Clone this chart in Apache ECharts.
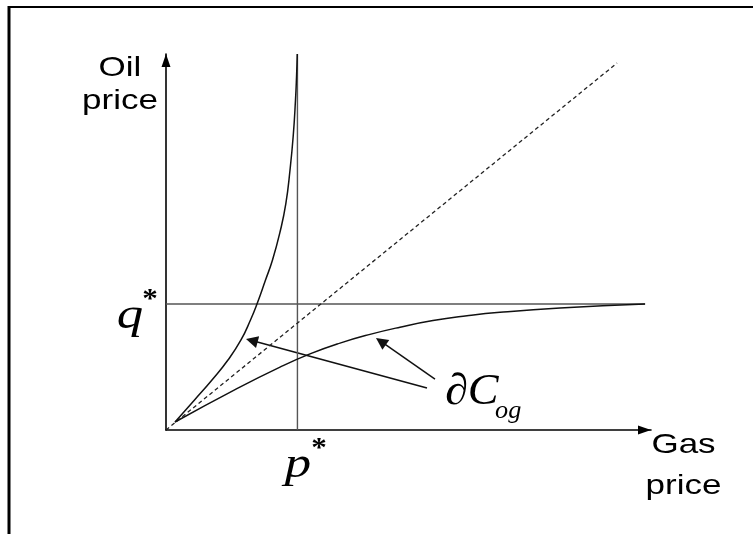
<!DOCTYPE html>
<html>
<head>
<meta charset="utf-8">
<script src="https://cdn.jsdelivr.net/npm/echarts@6/dist/echarts.min.js"></script>
<style>
  html, body { margin: 0; padding: 0; background: #fff; }
  #chart { width: 753px; height: 534px; }
</style>
</head>
<body>
<div id="chart"></div>
<script>
// Gas price on x, oil price on y, both on a 0–100 scale
const axisMax = 100;
const pStar = 27.1;          // threshold gas price p*
const qStar = 33.5;          // threshold oil price q*
const qLineEnd = 98.8;       // where the q* guide stops
const pLineTop = 100;        // where the p* guide stops

// ∂C_og branch that bends up towards the p* asymptote
const steepCurve = [
  [1.86, 2.13], [5.88, 7.98], [9.48, 13.3], [12.78, 18.62], [15.46, 23.94],
  [17.42, 29.26], [18.76, 33.51], [20.52, 39.89], [21.96, 45.21], [23.51, 52.66],
  [24.70, 60.11], [25.57, 69.15], [26.23, 78.19], [26.70, 87.77], [26.93, 94.41],
  [27.07, 100]
];
// ∂C_og branch that flattens towards the q* asymptote
const flatCurve = [
  [1.86, 2.13], [14.43, 10.88], [23.51, 16.73], [29.69, 20.24], [35.88, 23.11],
  [42.06, 25.43], [48.25, 27.34], [55.05, 29.10], [62.06, 30.37], [68.87, 31.30],
  [81.24, 32.45], [98.76, 33.51]
];
// reference ray from the origin
const diagonal = [[0, 0], [93, 97.6]];
// pointers from the ∂C_og label to each branch: [tail, arrowhead centre]
const pointerArrows = [
  [[53.81, 11.17], [17.69, 23.78]],
  [[55.46, 13.56], [44.31, 23.56]]
];

const INK = '#111';
const GUIDE = '#555';
const SANS = '"Liberation Sans", Arial, sans-serif';
const SERIF = '"Liberation Serif", "Times New Roman", serif';

function plainLine(data, color, width, type) {
  return {
    type: 'line',
    data: data,
    showSymbol: false,
    symbol: 'none',
    silent: true,
    lineStyle: { color: color, width: width, type: type || 'solid' }
  };
}

function label(text, x, y, font, align, sx) {
  return {
    type: 'text',
    x: x, y: y,
    scaleX: sx || 1,
    silent: true,
    style: {
      text: text, font: font, fill: '#000',
      align: align, textAlign: align,
      verticalAlign: 'middle', textVerticalAlign: 'middle'
    }
  };
}

const axisCommon = {
  type: 'value',
  min: 0,
  max: axisMax,
  axisLabel: { show: false },
  axisTick: { show: false },
  splitLine: { show: false },
  axisLine: {
    show: true,
    symbol: ['none', 'triangle'],
    symbolSize: [9, 13],
    symbolOffset: [0, -6.5],
    lineStyle: { color: '#000', width: 1.6 }
  }
};

const chart = echarts.init(document.getElementById('chart'), null, { renderer: 'canvas' });

chart.setOption({
  animation: false,
  backgroundColor: '#fff',
  grid: { left: 166, right: 102, top: 54, bottom: 104, containLabel: false },
  xAxis: Object.assign({}, axisCommon),
  yAxis: Object.assign({}, axisCommon),
  series: [
    plainLine([[pStar, 0], [pStar, pLineTop]], GUIDE, 1.4),
    plainLine([[0, qStar], [qLineEnd, qStar]], GUIDE, 1.4),
    plainLine(diagonal, '#222', 1.3, [4, 3]),
    Object.assign(plainLine(steepCurve, INK, 1.5), { smooth: 0.5 }),
    Object.assign(plainLine(flatCurve, INK, 1.5), { smooth: 0.5 }),
    {
      type: 'lines',
      coordinateSystem: 'cartesian2d',
      silent: true,
      symbol: ['none', 'triangle'],
      symbolSize: 12,
      lineStyle: { color: INK, width: 1.5, opacity: 1 },
      data: pointerArrows.map(function (seg) { return { coords: seg }; })
    }
  ],
  graphic: [
    // page frame
    { type: 'line', silent: true, shape: { x1: 9, y1: 6, x2: 9, y2: 534 }, style: { stroke: '#000', lineWidth: 3 } },
    { type: 'line', silent: true, shape: { x1: 8, y1: 7, x2: 753, y2: 7 }, style: { stroke: '#000', lineWidth: 2 } },
    // axis titles
    label('Oil', 120, 68, '28px ' + SANS, 'center', 1.25),
    label('price', 120, 101, '28px ' + SANS, 'center', 1.25),
    label('Gas', 683.5, 445, '28px ' + SANS, 'center', 1.25),
    label('price', 683.5, 486, '28px ' + SANS, 'center', 1.25),
    // threshold prices
    label('q', 130, 316, 'italic 44px ' + SERIF, 'center', 1.2),
    label('*', 150, 300, 'bold 27px ' + SERIF, 'center', 1.15),
    label('p', 298, 465, 'italic 44px ' + SERIF, 'center', 1.2),
    label('*', 319, 449, 'bold 27px ' + SERIF, 'center', 1.15),
    // curve label
    label('\u2202C', 445, 392, 'italic 44px ' + SERIF, 'left', 1.05),
    label('og', 495, 411, 'italic 25px ' + SERIF, 'left', 1.05)
  ]
});
</script>
</body>
</html>
